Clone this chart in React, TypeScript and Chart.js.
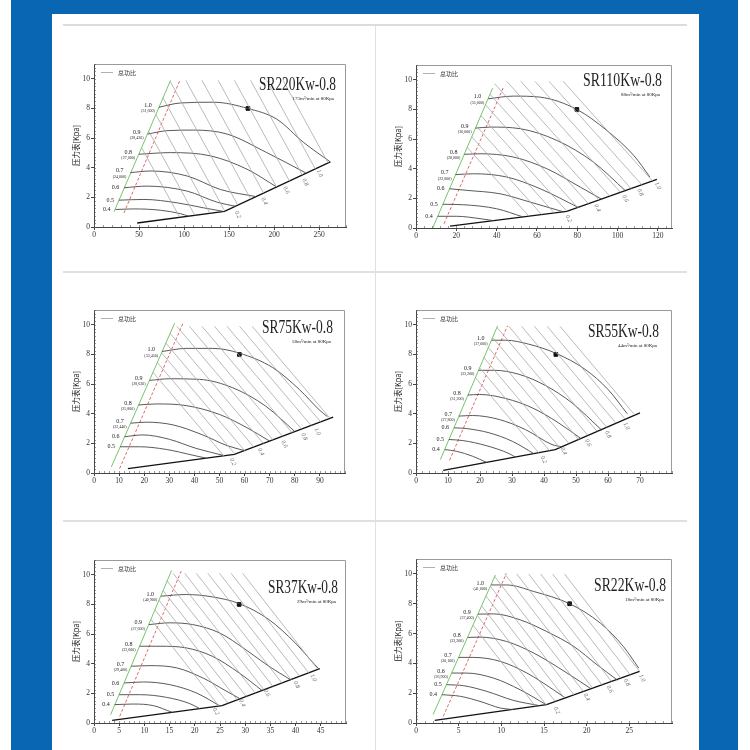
import { useEffect, useRef } from 'react';
import { Chart, registerables } from 'chart.js';

Chart.register(...registerables);

type Pt = [number, number];

// shared labels
const yTicks = [0, 2, 4, 6, 8, 10];
const speedNames = ['1.0', '0.9', '0.8', '0.7', '0.6', '0.5', '0.4'];
const baseNames = ['0.2', '0.4', '0.6', '0.8', '1.0'];

// ---- SR220Kw-0.8 ----
const sr220XTicks = [0, 50, 100, 150, 200, 250];
const sr220Rpm = ['(31,600)', '(28,420)', '(27,000)', '(24,000)'];
const sr220Speed: Pt[][] = [
    [[72, 8.08], [96, 8.37], [133, 8.42], [171, 8.0], [203, 7.28], [233, 5.7], [262.6, 4.39]],
    [[59.5, 6.27], [81, 6.5], [111, 6.54], [148, 6.27], [192, 5.02], [235, 3.66]],
    [[50, 4.91], [85, 5.02], [129.4, 4.8], [170, 3.9], [203, 2.7]],
    [[40.5, 3.67], [63, 3.78], [103.6, 3.44], [140.5, 2.53], [180, 2.05]],
    [[33.5, 2.65], [59, 2.76], [103.6, 2.42], [137, 1.67], [157, 1.4]],
    [[27.7, 1.81], [55.5, 1.86], [92.5, 1.63], [122, 1.29], [144, 1.05]],
    [[24, 1.18], [44.4, 1.22], [74, 1.13], [96, 0.9], [105.4, 0.72]],
];
const sr220Iso = [
    [210, 9.9, 260.2, 4.32], [192, 9.9, 245.9, 3.92], [174, 9.9, 231.5, 3.51], [156, 9.9, 217.2, 3.1],
    [138, 9.9, 202.8, 2.7], [120, 9.9, 188.5, 2.29], [102, 9.9, 174.1, 1.89], [84.6, 9.83, 159.8, 1.48],
    [76.7, 8.71, 145.4, 1.07], [68.8, 7.59, 128.8, 0.93], [60.8, 6.47, 112, 0.79], [52.9, 5.35, 95.2, 0.66],
];
const sr220Green: Pt[] = [[22.2, 1.02], [85, 9.89]];
const sr220Red: Pt[] = [[33.3, 0.95], [95.4, 9.89]];
const sr220Base: Pt[] = [[48, 0.27], [145, 1.06], [262.6, 4.39]];
const sr220Rated: Pt = [171, 8];
const sr220BaseLabels: Pt[] = [[159.8, 0.84], [189.3, 1.74], [213.8, 2.49], [234.8, 3.03], [250.7, 3.62]];

// ---- SR110Kw-0.8 ----
const sr110XTicks = [0, 20, 40, 60, 80, 100, 120];
const sr110Rpm = ['(35,000)', '(30,000)', '(28,000)', '(22,000)'];
const sr110Speed: Pt[][] = [
    [[35.8, 8.72], [48.3, 8.9], [61.6, 8.83], [79.8, 8.0], [94.7, 6.58], [108, 4.9], [116, 3.45]],
    [[29.5, 6.74], [36.8, 6.81], [51.7, 6.7], [69.9, 5.91], [88, 4.45], [104, 2.5]],
    [[24, 4.97], [31.8, 5.01], [48.3, 4.79], [64.9, 4.0], [81.5, 2.76], [92, 1.95]],
    [[19.6, 3.6], [28.5, 3.66], [45, 3.44], [61.6, 2.65], [80.5, 1.39]],
    [[16.6, 2.65], [25.2, 2.54], [41.7, 2.31], [56.6, 1.75], [73.2, 1.09]],
    [[13.3, 1.6], [23.5, 1.57], [40, 1.3], [53, 0.75]],
    [[10.8, 0.79], [20.2, 0.79], [31.8, 0.63], [38.4, 0.5]],
];
const sr110Iso = [
    [73, 9.9, 117.3, 3.18], [66, 9.9, 112, 2.92], [59, 9.9, 106.7, 2.66], [52, 9.9, 101.4, 2.41],
    [45, 9.9, 96.1, 2.15], [39, 9.74, 90.8, 1.89], [36.7, 9.03, 85.5, 1.64], [34.5, 8.31, 80.2, 1.38],
    [32.2, 7.59, 74.9, 1.12], [30, 6.87, 68.6, 1.01], [27.7, 6.15, 62.3, 0.91], [25.4, 5.44, 56, 0.8],
];
const sr110Green: Pt[] = [[8.3, 0], [38, 9.44]];
const sr110Red: Pt[] = [[13.9, 0.29], [43.4, 9.5]];
const sr110Base: Pt[] = [[16.9, 0.13], [74.8, 1.12], [119.5, 3.28]];
const sr110Rated: Pt = [79.8, 8];
const sr110BaseLabels: Pt[] = [[75.7, 0.63], [90, 1.35], [103.8, 1.98], [111.3, 2.4], [120, 2.85]];

// ---- SR75Kw-0.8 ----
const sr75XTicks = [0, 10, 20, 30, 40, 50, 60, 70, 80, 90];
const sr75Rpm = ['(33,450)', '(28,630)', '(25,860)', '(22,440)'];
const sr75Speed: Pt[][] = [
    [[27.1, 8.2], [36.7, 8.41], [47.3, 8.41], [57.9, 8.09], [71.2, 7.11], [81.8, 5.64], [89.7, 4.27], [93, 3.8]],
    [[22.1, 6.25], [30.1, 6.36], [42, 6.32], [55.3, 5.75], [68.5, 4.5], [80, 2.8]],
    [[17.8, 4.59], [24.8, 4.66], [36.7, 4.55], [50, 3.95], [61, 3.05], [70, 2.15]],
    [[14.6, 3.36], [20.8, 3.43], [31.4, 3.25], [43.3, 2.57], [53, 1.85], [60, 1.51]],
    [[12.2, 2.45], [19.5, 2.57], [30.1, 2.27], [40.7, 1.66], [52, 1.17]],
    [[10.4, 1.77], [18.2, 1.77], [28.8, 1.59], [39.4, 1.2], [44.7, 1.0]],
];
const sr75Iso = [
    [63, 9.9, 94.05, 3.69], [58, 9.9, 90.3, 3.45], [53, 9.9, 86.5, 3.21], [48, 9.9, 82.7, 2.96],
    [43, 9.9, 78.9, 2.72], [38, 9.9, 75.1, 2.48], [33, 9.9, 71.3, 2.24], [30.3, 9.43, 67.5, 1.99],
    [28.6, 8.77, 63.7, 1.75], [26.9, 8.11, 60, 1.51], [25.2, 7.46, 56.2, 1.27], [23.5, 6.8, 51.7, 1.16],
];
const sr75Green: Pt[] = [[6.9, 0.41], [32.1, 10.1]];
const sr75Red: Pt[] = [[10.2, 0.3], [35.7, 10.2]];
const sr75Base: Pt[] = [[13.5, 0.3], [55.9, 1.25], [95.3, 3.77]];
const sr75Rated: Pt = [57.9, 8];
const sr75BaseLabels: Pt[] = [[55.3, 0.75], [66.5, 1.43], [75.8, 1.95], [83.8, 2.45], [89, 2.8]];

// ---- SR55Kw-0.8 ----
const sr55XTicks = [0, 10, 20, 30, 40, 50, 60, 70];
const sr55Rpm = ['(37,000)', '(33,200)', '(31,200)', '(27,800)'];
const sr55Speed: Pt[][] = [
    [[23.6, 8.96], [28, 8.96], [35.3, 8.69], [43.7, 8.08], [52.8, 7.0], [60, 5.64], [66, 4.0]],
    [[19.5, 6.93], [24.4, 6.93], [32.2, 6.66], [40.4, 5.91], [48.7, 4.74], [58, 2.9]],
    [[16.2, 5.26], [19.8, 5.3], [28, 5.03], [36.3, 4.4], [44.5, 3.39], [51.5, 2.33]],
    [[13.4, 3.84], [17.7, 3.88], [26, 3.61], [34.2, 2.93], [42.5, 1.92], [45.5, 1.77]],
    [[11.9, 3.05], [15.7, 3.0], [22.9, 2.71], [30.1, 2.14], [36.8, 1.31]],
    [[10.3, 2.26], [14.6, 2.19], [21.9, 1.85], [29.1, 1.31], [31, 1.08]],
    [[9, 1.58], [12.6, 1.47], [17.7, 1.13], [22, 0.72]],
];
const sr55Iso = [
    [45, 9.9, 68.4, 3.91], [41, 9.9, 65.4, 3.63], [37, 9.9, 62.5, 3.36], [33, 9.9, 59.6, 3.08],
    [29, 9.9, 56.6, 2.81], [25.3, 9.83, 53.7, 2.54], [23.9, 9.15, 50.8, 2.26], [22.6, 8.47, 47.8, 1.99],
    [21.2, 7.79, 44.9, 1.71], [19.9, 7.1, 41.7, 1.51], [18.6, 6.42, 38.3, 1.37],
];
const sr55Green: Pt[] = [[7.6, 0.9], [25.5, 9.93]];
const sr55Red: Pt[] = [[10.5, 0.86], [28.6, 9.93]];
const sr55Base: Pt[] = [[8.5, 0.18], [43.5, 1.58], [70, 4.06]];
const sr55Rated: Pt = [43.7, 8];
const sr55BaseLabels: Pt[] = [[39.9, 0.9], [46.1, 1.47], [53.8, 2.03], [60, 2.6], [65.7, 3.16]];

// ---- SR37Kw-0.8 ----
const sr37XTicks = [0, 5, 10, 15, 20, 25, 30, 35, 40, 45];
const sr37Rpm = ['(40,900)', '(37,600)', '(33,600)', '(29,400)'];
const sr37Speed: Pt[][] = [
    [[13.3, 8.56], [18.3, 8.67], [23.5, 8.51], [28.8, 8.06], [34.7, 6.98], [39.9, 5.41], [43.8, 3.94], [44.5, 3.7]],
    [[10.9, 6.64], [15, 6.76], [19.6, 6.64], [24.9, 6.08], [30.1, 4.95], [34.7, 3.83], [39, 2.92]],
    [[9.05, 5.18], [13.1, 5.18], [18.3, 5.07], [23.5, 4.5], [28.8, 3.38], [33.4, 2.18]],
    [[7.4, 3.83], [11.1, 3.87], [16.4, 3.72], [21.6, 3.04], [26, 2.2], [29, 1.63]],
    [[6, 2.7], [9.8, 2.77], [15, 2.59], [20.3, 2.03], [25, 1.15]],
    [[5, 1.91], [9.2, 1.91], [14.4, 1.73], [19, 1.31], [21, 0.97]],
    [[4.1, 1.24], [7.8, 1.28], [11.8, 1.17], [15.5, 0.72]],
];
const sr37Iso = [
    [29.5, 10.1, 44.4, 3.62], [27.2, 10.1, 42.6, 3.39], [24.9, 10.1, 40.8, 3.16], [22.6, 10.1, 39.1, 2.93],
    [20.3, 10.1, 37.3, 2.7], [18, 10.1, 35.5, 2.47], [15.7, 10.1, 33.7, 2.25], [14.5, 9.59, 32, 2.02],
    [13.7, 8.94, 30.2, 1.79], [12.9, 8.29, 28.4, 1.56], [12.1, 7.64, 26.6, 1.33], [11.3, 6.99, 24.8, 1.14],
];
const sr37Green: Pt[] = [[3.3, 0.56], [15.4, 10.3]];
const sr37Red: Pt[] = [[5.1, 0.45], [17.3, 10.25]];
const sr37Base: Pt[] = [[3.6, 0.18], [25.4, 1.17], [44.8, 3.67]];
const sr37Rated: Pt = [28.8, 8];
const sr37BaseLabels: Pt[] = [[24.2, 0.79], [29.4, 1.35], [34.3, 2.03], [40.2, 2.59], [43.5, 3.04]];

// ---- SR22Kw-0.8 ----
const sr22XTicks = [0, 5, 10, 15, 20, 25];
const sr22Rpm = ['(41,000)', '(37,400)', '(33,200)', '(30,100)', '(26,900)'];
const sr22Speed: Pt[][] = [
    [[8.8, 9.26], [10.6, 9.26], [13.8, 8.82], [18, 8], [21.6, 6.7], [24.3, 5.13], [26.1, 3.68]],
    [[7.25, 7.3], [9.1, 7.32], [12.2, 6.92], [15.3, 6.14], [18.5, 5.13], [21.2, 3.91], [23.6, 2.88]],
    [[6.05, 5.74], [7.5, 5.76], [10.6, 5.47], [13.8, 4.69], [17.7, 3.35], [20.5, 2.3]],
    [[5, 4.4], [6.7, 4.4], [9.9, 4.13], [13, 3.35], [16.1, 2.23], [17.5, 1.68]],
    [[4.2, 3.35], [5.9, 3.35], [9.1, 3.01], [12.2, 2.23], [15.2, 1.25]],
    [[3.6, 2.57], [5.6, 2.5], [8.3, 2.12], [11.4, 1.52], [14.5, 1.16]],
    [[3.05, 1.9], [5.2, 1.79], [7.5, 1.45], [9.9, 1.0], [11.4, 0.9]],
];
const sr22Iso = [
    [17.4, 10, 26.2, 3.47], [16, 10, 25.1, 3.24], [14.6, 10, 24, 3.02], [13.2, 10, 22.9, 2.79],
    [11.8, 10, 21.8, 2.57], [10.4, 10, 20.7, 2.34], [9.2, 9.84, 19.6, 2.12], [8.7, 9.18, 18.5, 1.89],
    [8.2, 8.52, 17.4, 1.67], [7.7, 7.86, 16.3, 1.45], [7.2, 7.2, 15.25, 1.22], [6.7, 6.55, 14, 1.12],
];
const sr22Green: Pt[] = [[2, 0.56], [9.3, 9.93]];
const sr22Red: Pt[] = [[3.2, 0.45], [10.6, 10.04]];
const sr22Base: Pt[] = [[2.2, 0.18], [15.3, 1.23], [26.2, 3.46]];
const sr22Rated: Pt = [18, 8];
const sr22BaseLabels: Pt[] = [[16.5, 0.85], [20, 1.74], [22.7, 2.28], [24.7, 2.72], [26.5, 3.01]];

interface Panel {
    title: string;
    note: string;
    xMax: number;
    xTicks: number[];
    speed: Pt[][];
    rpm: string[];
    iso: number[][];
    green: Pt[];
    red: Pt[];
    base: Pt[];
    rated: Pt;
    baseLabels: Pt[];
    box: number[]; // left, top, right, bottom of the plot area on the page
    titleRight: number;
    titleTop: number;
    titleW: number;
}

const panels: Panel[] = [
    { title: 'SR220Kw-0.8', note: '173m³/min at 80Kpa', xMax: 280, xTicks: sr220XTicks, speed: sr220Speed, rpm: sr220Rpm, iso: sr220Iso, green: sr220Green, red: sr220Red, base: sr220Base, rated: sr220Rated, baseLabels: sr220BaseLabels, box: [94, 64, 346, 227], titleRight: 10, titleTop: 21, titleW: 77 },
    { title: 'SR110Kw-0.8', note: '88m³/min at 80Kpa', xMax: 127, xTicks: sr110XTicks, speed: sr110Speed, rpm: sr110Rpm, iso: sr110Iso, green: sr110Green, red: sr110Red, base: sr110Base, rated: sr110Rated, baseLabels: sr110BaseLabels, box: [416, 65, 672, 228], titleRight: 10, titleTop: 16, titleW: 79 },
    { title: 'SR75Kw-0.8', note: '58m³/min at 80Kpa', xMax: 100, xTicks: sr75XTicks, speed: sr75Speed, rpm: sr75Rpm, iso: sr75Iso, green: sr75Green, red: sr75Red, base: sr75Base, rated: sr75Rated, baseLabels: sr75BaseLabels, box: [94, 310, 345, 473], titleRight: 12, titleTop: 18, titleW: 71 },
    { title: 'SR55Kw-0.8', note: '44m³/min at 80Kpa', xMax: 80, xTicks: sr55XTicks, speed: sr55Speed, rpm: sr55Rpm, iso: sr55Iso, green: sr55Green, red: sr55Red, base: sr55Base, rated: sr55Rated, baseLabels: sr55BaseLabels, box: [416, 310, 672, 473], titleRight: 13, titleTop: 22, titleW: 71 },
    { title: 'SR37Kw-0.8', note: '29m³/min at 80Kpa', xMax: 50, xTicks: sr37XTicks, speed: sr37Speed, rpm: sr37Rpm, iso: sr37Iso, green: sr37Green, red: sr37Red, base: sr37Base, rated: sr37Rated, baseLabels: sr37BaseLabels, box: [94, 560, 346, 723], titleRight: 8, titleTop: 28, titleW: 70 },
    { title: 'SR22Kw-0.8', note: '18m³/min at 80Kpa', xMax: 30, xTicks: sr22XTicks, speed: sr22Speed, rpm: sr22Rpm, iso: sr22Iso, green: sr22Green, red: sr22Red, base: sr22Base, rated: sr22Rated, baseLabels: sr22BaseLabels, box: [416, 559, 672, 723], titleRight: 6, titleTop: 27, titleW: 72 },
];

const SERIF = '"Liberation Serif", "DejaVu Serif", serif';
const CJK = '"Noto Sans CJK SC", sans-serif';

const toXY = (pts: Pt[]) => pts.map(([x, y]) => ({ x, y }));

// texts, box border and minor ticks drawn over the plot
function overlay(p: Panel) {
    return {
        id: 'overlay',
        afterDatasetsDraw(chart: any) {
            const { ctx, chartArea: a, scales } = chart;
            const xs = scales.x;
            const ys = scales.y;
            ctx.save();

            // top and right frame
            ctx.strokeStyle = '#9a9a9a';
            ctx.lineWidth = 1;
            ctx.beginPath();
            ctx.moveTo(a.left, a.top + 0.5);
            ctx.lineTo(a.right - 0.5, a.top + 0.5);
            ctx.lineTo(a.right - 0.5, a.bottom);
            ctx.stroke();

            // minor ticks
            ctx.strokeStyle = '#555';
            ctx.lineWidth = 0.6;
            ctx.beginPath();
            for (let v = 0; v <= 11.001; v += 0.25) {
                const y = Math.round(ys.getPixelForValue(v)) + 0.5;
                ctx.moveTo(a.left, y);
                ctx.lineTo(a.left + 2, y);
            }
            const step = p.xTicks[1] / 5;
            for (let v = 0; v <= p.xMax + 0.001; v += step) {
                const x = Math.round(xs.getPixelForValue(v)) + 0.5;
                ctx.moveTo(x, a.bottom);
                ctx.lineTo(x, a.bottom - 2);
            }
            ctx.stroke();

            // legend
            ctx.strokeStyle = '#b0b0b0';
            ctx.lineWidth = 1;
            ctx.beginPath();
            ctx.moveTo(a.left + 7, a.top + 8.5);
            ctx.lineTo(a.left + 19, a.top + 8.5);
            ctx.stroke();
            ctx.fillStyle = '#333';
            ctx.font = `6px ${CJK}`;
            ctx.textAlign = 'left';
            ctx.textBaseline = 'middle';
            ctx.fillText('总功比', a.left + 24, a.top + 8.5);

            // title, squeezed to the reference width
            ctx.font = `18px ${SERIF}`;
            ctx.fillStyle = '#222';
            const tw = ctx.measureText(p.title).width;
            const sx = p.titleW / tw;
            const tr = a.right - p.titleRight;
            const ty = a.top + p.titleTop;
            ctx.save();
            ctx.translate(tr - p.titleW, ty);
            ctx.scale(sx, 1);
            ctx.textAlign = 'left';
            ctx.fillText(p.title, 0, 0);
            ctx.restore();
            ctx.font = `5px ${SERIF}`;
            ctx.textAlign = 'right';
            ctx.fillText(p.note, tr - 2, ty + 14);

            // speed labels
            p.speed.forEach((c, i) => {
                const px = xs.getPixelForValue(c[0][0]);
                const py = ys.getPixelForValue(c[0][1]);
                ctx.textAlign = 'right';
                ctx.fillStyle = '#222';
                ctx.font = `6px ${SERIF}`;
                if (i < p.rpm.length) {
                    ctx.fillText(speedNames[i], px - 7, py - 2);
                    ctx.font = `4px ${SERIF}`;
                    ctx.fillText(p.rpm[i], px - 4, py + 4);
                } else {
                    ctx.fillText(speedNames[i], px - 5, py);
                }
            });

            // flow labels under the base line
            ctx.fillStyle = '#666';
            ctx.font = `italic 6px ${SERIF}`;
            ctx.textAlign = 'center';
            p.baseLabels.forEach(([x, y], i) => {
                ctx.save();
                ctx.translate(xs.getPixelForValue(x), ys.getPixelForValue(y));
                ctx.rotate(1.1);
                ctx.fillText(baseNames[i], 0, 0);
                ctx.restore();
            });

            // y axis title
            ctx.save();
            ctx.translate(a.left - 18, (a.top + a.bottom) / 2);
            ctx.rotate(-Math.PI / 2);
            ctx.fillStyle = '#111';
            ctx.font = `7.5px ${CJK}`;
            ctx.textAlign = 'center';
            ctx.fillText('压力表[Kpa]', 0, 0);
            ctx.restore();

            ctx.restore();
        },
    };
}

function FanMap({ p }: { p: Panel }) {
    const ref = useRef<HTMLCanvasElement>(null);
    const [L, T, R, B] = p.box;
    const w = R - L + 50;
    const h = B - T + 40;

    useEffect(() => {
        if (!ref.current) return;

        const datasets: any[] = [];
        p.iso.forEach((s) =>
            datasets.push({
                data: [{ x: s[0], y: s[1] }, { x: s[2], y: s[3] }],
                showLine: true,
                borderColor: '#a8a8a8',
                borderWidth: 0.8,
                pointRadius: 0,
            }),
        );
        p.speed.forEach((c) =>
            datasets.push({
                data: toXY(c),
                showLine: true,
                borderColor: '#474747',
                borderWidth: 0.9,
                pointRadius: 0,
                cubicInterpolationMode: 'monotone',
            }),
        );
        datasets.push({ data: toXY(p.green), showLine: true, borderColor: '#78c46a', borderWidth: 1, pointRadius: 0 });
        datasets.push({ data: toXY(p.red), showLine: true, borderColor: '#de6a64', borderWidth: 1, borderDash: [3, 2], pointRadius: 0 });
        datasets.push({ data: toXY(p.base), showLine: true, borderColor: '#111', borderWidth: 1.3, pointRadius: 0 });
        datasets.push({
            data: [{ x: p.rated[0], y: p.rated[1] }],
            showLine: false,
            pointStyle: 'rect',
            pointRadius: 2.6,
            backgroundColor: '#111',
            borderColor: '#111',
        });

        const tickFont = { family: SERIF, size: 7.5 };
        const chart = new Chart(ref.current, {
            type: 'scatter',
            data: { datasets },
            options: {
                responsive: false,
                animation: false,
                layout: { padding: { left: 26, top: 10, right: 10, bottom: 18 } },
                plugins: { legend: { display: false }, tooltip: { enabled: false } },
                scales: {
                    x: {
                        type: 'linear',
                        min: 0,
                        max: p.xMax,
                        afterBuildTicks: (s: any) => {
                            s.ticks = p.xTicks.map((v) => ({ value: v }));
                        },
                        afterFit: (s: any) => {
                            s.height = 12;
                        },
                        ticks: { font: tickFont, color: '#333', padding: 1, maxRotation: 0, autoSkip: false },
                        grid: { drawOnChartArea: false, tickLength: 3, color: '#444' },
                        border: { color: '#444', width: 1 },
                    },
                    y: {
                        type: 'linear',
                        min: 0,
                        max: 11,
                        afterBuildTicks: (s: any) => {
                            s.ticks = yTicks.map((v) => ({ value: v }));
                        },
                        afterFit: (s: any) => {
                            s.width = 14;
                        },
                        ticks: { font: tickFont, color: '#333', padding: 1 },
                        grid: { drawOnChartArea: false, tickLength: 3, color: '#444' },
                        border: { color: '#444', width: 1 },
                    },
                },
            } as any,
            plugins: [overlay(p)],
        });

        return () => chart.destroy();
    }, [p]);

    return (
        <canvas
            ref={ref}
            width={w}
            height={h}
            style={{ position: 'absolute', left: L - 40, top: T - 10, width: w, height: h }}
        />
    );
}

export default function App() {
    const rule = '#e0e0e0';
    return (
        <div style={{ position: 'fixed', left: 0, top: 0, width: 750, height: 750, background: '#fff', overflow: 'hidden' }}>
            <div style={{ position: 'absolute', left: 11, top: 0, width: 727, height: 750, background: '#0866b2' }} />
            <div style={{ position: 'absolute', left: 52, top: 14, width: 647, height: 736, background: '#fff' }} />
            <div style={{ position: 'absolute', left: 63, top: 23.5, width: 624, height: 2, background: '#dcdcdc' }} />
            <div style={{ position: 'absolute', left: 63, top: 271, width: 624, height: 1.5, background: rule }} />
            <div style={{ position: 'absolute', left: 63, top: 520, width: 624, height: 1.5, background: rule }} />
            <div style={{ position: 'absolute', left: 375, top: 25, width: 1, height: 725, background: rule }} />
            {panels.map((p) => (
                <FanMap key={p.title} p={p} />
            ))}
        </div>
    );
}
